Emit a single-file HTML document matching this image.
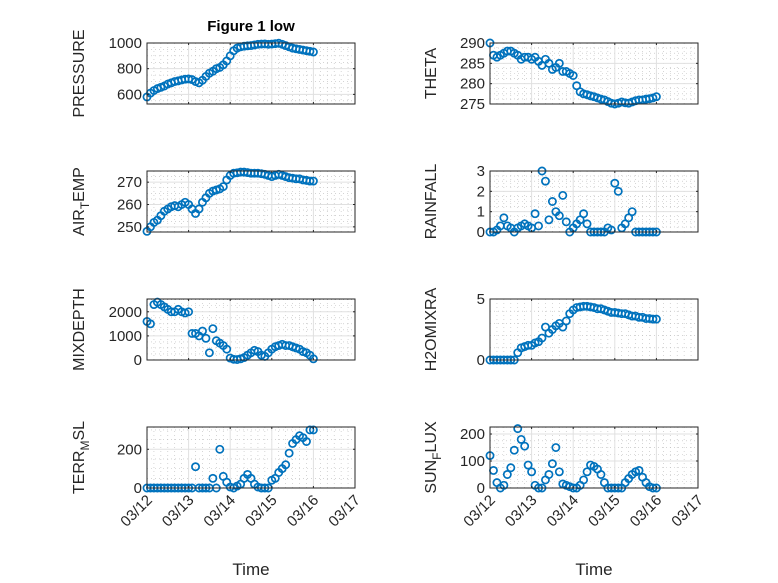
<!DOCTYPE html>
<html><head><meta charset="utf-8"><style>
body{margin:0;background:#fff}
svg{display:block;font-family:"Liberation Sans","DejaVu Sans",sans-serif}
</style></head><body>
<svg id="fig" width="778" height="583" viewBox="0 0 778 583" xmlns="http://www.w3.org/2000/svg">
<rect width="778" height="583" fill="#fff"/>
<text x="251" y="31" text-anchor="middle" font-size="15" font-weight="bold" fill="#000">Figure 1 low</text>
</svg>
<script>
const xTickLabels = ["03/12","03/13","03/14","03/15","03/16","03/17"];
const pressure = [580,610,630,645,655,665,680,690,700,705,712,718,720,715,700,690,710,740,765,780,800,810,830,860,900,940,960,970,975,978,980,985,990,992,993,990,992,995,998,990,980,970,960,955,950,945,940,935,930];
const airTemp = [248,250,252,253,255,257,258,259,259.5,259,260,261,260,258,256,258,261,263,265,266,266.5,267,268,271,273,274,274.2,274.5,274.5,274.3,274,274,274,273.8,273.5,273,272.5,273,273.5,273,272.5,272,271.8,271.5,271.5,271,270.8,270.5,270.5];
const mixDepth = [1600,1500,2300,2400,2300,2200,2100,2000,2000,2100,2000,1950,2000,1100,1100,1000,1200,900,300,1300,800,700,600,450,80,30,20,50,100,200,300,400,350,200,150,300,450,550,600,650,600,600,550,500,450,350,300,200,50];
const terrMsl = [0,0,0,0,0,0,0,0,0,0,0,0,0,0,110,0,0,0,0,50,0,200,60,30,5,0,10,20,50,70,50,20,5,0,0,0,40,50,80,100,120,180,230,250,270,260,240,300,300];
const theta = [290,287,286.5,287,287.5,288,288,287.5,287,286,286.5,286.5,286,286.5,285.5,284.5,286,285,283.5,284,285,283,283,282.5,282,279.5,278,277.5,277.3,277,276.8,276.5,276.2,276,275.6,275.2,275,275.2,275.5,275.3,275.2,275.5,275.8,276,276,276.2,276.3,276.5,276.8];
const rainfall = [0,0,0.1,0.3,0.7,0.3,0.2,0,0.2,0.3,0.4,0.3,0.2,0.9,0.3,3,2.5,0.6,1.5,1,0.8,1.8,0.5,0,0.2,0.4,0.6,0.9,0.4,0,0,0,0,0,0.2,0.1,2.4,2,0.2,0.4,0.7,1,0,0,0,0,0,0,0];
const h2oMixRa = [0,0,0,0,0,0,0,0,0.6,1,1.1,1.2,1.2,1.4,1.5,1.8,2.7,2.2,2.5,2.8,3,2.7,3.2,3.8,4.1,4.3,4.35,4.4,4.4,4.35,4.3,4.2,4.2,4.1,4,3.9,3.9,3.85,3.8,3.8,3.7,3.6,3.6,3.5,3.5,3.4,3.4,3.35,3.35];
const sunFlux = [120,65,20,0,10,50,75,140,220,180,155,85,60,10,0,0,30,50,90,150,60,15,10,5,0,0,10,30,60,85,80,70,50,20,0,0,0,0,0,20,35,50,60,65,40,20,5,0,0];
const hoursStep = 2;

const NS="http://www.w3.org/2000/svg";
const svg=document.getElementById('fig');
function mk(tag,attrs,parent){const e=document.createElementNS(NS,tag);for(const k in attrs)e.setAttribute(k,attrs[k]);(parent||svg).appendChild(e);return e;}

const panels=[
 {name:"pressure",data:pressure,col:0,row:0,ymin:525,ymax:1000,ticks:[600,800,1000],minor:50,label:["PRESSURE"]},
 {name:"theta",data:theta,col:1,row:0,ymin:275,ymax:290,ticks:[275,280,285,290],minor:1.25,label:["THETA"]},
 {name:"air-temp",data:airTemp,col:0,row:1,ymin:247.7,ymax:275,ticks:[250,260,270],minor:2.5,label:["AIR","T","EMP"]},
 {name:"rainfall",data:rainfall,col:1,row:1,ymin:0,ymax:3,ticks:[0,1,2,3],minor:0.25,label:["RAINFALL"]},
 {name:"mixdepth",data:mixDepth,col:0,row:2,ymin:0,ymax:2530,ticks:[0,1000,2000],minor:250,label:["MIXDEPTH"]},
 {name:"h2omixra",data:h2oMixRa,col:1,row:2,ymin:0,ymax:5,ticks:[0,5],minor:1,label:["H2OMIXRA"]},
 {name:"terr-msl",data:terrMsl,col:0,row:3,ymin:0,ymax:315,ticks:[0,200],minor:50,label:["TERR","M","SL"]},
 {name:"sun-flux",data:sunFlux,col:1,row:3,ymin:0,ymax:226,ticks:[0,100,200],minor:25,label:["SUN","F","LUX"]}
];
const colX=[147,490], W=208, rowY=[43,171,299,427], H=61;

panels.forEach(p=>{
 const x0=colX[p.col], y0=rowY[p.row];
 const g=mk('g',{});
 
 
 const xs=d=>x0+d/5*W;
 const ys=v=>y0+H-(v-p.ymin)/(p.ymax-p.ymin)*H;
 mk('rect',{x:x0,y:y0,width:W,height:H,fill:'#fff'},g);
 for(let d=0;d<=5;d+=1/6){const X=xs(d);if(Math.abs(d-Math.round(d))<1e-6)continue;
  mk('line',{x1:X,x2:X,y1:y0,y2:y0+H,stroke:'#bbb','stroke-width':0.6,'stroke-dasharray':'1 3'},g);}
 for(let v=Math.ceil(p.ymin/p.minor)*p.minor;v<=p.ymax;v+=p.minor){if(p.ticks.some(t=>Math.abs(t-v)<1e-6))continue;const Y=ys(v);
  mk('line',{x1:x0,x2:x0+W,y1:Y,y2:Y,stroke:'#bbb','stroke-width':0.6,'stroke-dasharray':'1 3'},g);}
 for(let d=1;d<5;d++){const X=xs(d);mk('line',{x1:X,x2:X,y1:y0,y2:y0+H,stroke:'#e0e0e0','stroke-width':1},g);}
 p.ticks.forEach(t=>{const Y=ys(t);if(Y>y0+0.5&&Y<y0+H-0.5)mk('line',{x1:x0,x2:x0+W,y1:Y,y2:Y,stroke:'#e0e0e0','stroke-width':1},g);});
 p.data.forEach((v,i)=>{
  const c=mk('circle',{cx:xs(i*hoursStep/24),cy:ys(v),r:3.6,fill:'none',stroke:'#0072BD','stroke-width':1.7},g);
  
  
 });
 mk('rect',{x:x0,y:y0,width:W,height:H,fill:'none',stroke:'#262626','stroke-width':1},g);
 for(let d=0;d<=5;d++){const X=xs(d);mk('line',{x1:X,x2:X,y1:y0+H,y2:y0+H-2,stroke:'#262626'},g);mk('line',{x1:X,x2:X,y1:y0,y2:y0+2,stroke:'#262626'},g);}
 p.ticks.forEach(t=>{const Y=ys(t);
  mk('line',{x1:x0,x2:x0+2,y1:Y,y2:Y,stroke:'#262626'},g);
  mk('line',{x1:x0+W,x2:x0+W-2,y1:Y,y2:Y,stroke:'#262626'},g);
  const tx=mk('text',{x:x0-5,y:Y+5,'text-anchor':'end','font-size':15,fill:'#262626'},g);
  
  
  tx.textContent=t;});
 const lx=p.col===0?84:436, ly=y0+H/2;
 const yl=mk('text',{x:lx,y:ly,'text-anchor':'middle','font-size':16,fill:'#262626',transform:`rotate(-90 ${lx} ${ly})`},g);
 
 
 if(p.label.length===1){yl.textContent=p.label[0];}
 else{const a=mk('tspan',{},yl);a.textContent=p.label[0];
  const b=mk('tspan',{'font-size':12,dy:5},yl);b.textContent=p.label[1];
  const c=mk('tspan',{dy:-5},yl);c.textContent=p.label[2];}
 if(p.row===3){
  xTickLabels.forEach((s,d)=>{const X=xs(d)+6,Y=y0+H+13;
   const t=mk('text',{x:X,y:Y,'text-anchor':'end','font-size':15,fill:'#262626',transform:`rotate(-45 ${X} ${Y})`},g);
   
   
   t.textContent=s;});
  const xl=mk('text',{x:x0+W/2,y:575,'text-anchor':'middle','font-size':17,fill:'#262626'},g);
  
  
  xl.textContent='Time';
 }
});
</script>
</body></html>
